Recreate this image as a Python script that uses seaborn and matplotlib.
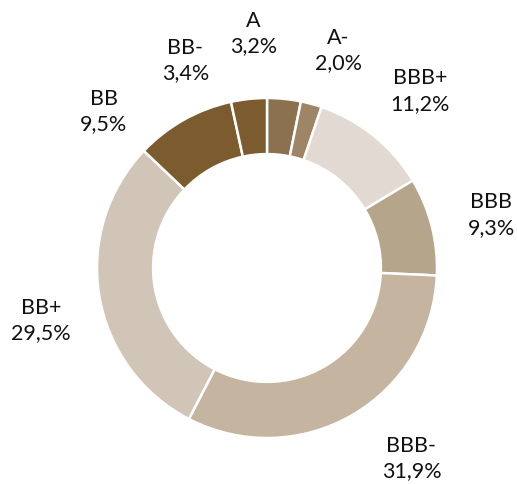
import matplotlib
matplotlib.use("Agg")
import matplotlib.pyplot as plt
import seaborn as sns

# rating distribution, clockwise from 12 o'clock
ratings = ["A", "A-", "BBB+", "BBB", "BBB-", "BB+", "BB", "BB-"]
shares = [3.2, 2.0, 11.2, 9.3, 31.9, 29.5, 9.5, 3.4]
colors = ["#8C7150", "#9E8566", "#E2DAD2", "#B5A58B",
          "#C4B4A0", "#D0C5B6", "#7C5C2F", "#7C5C2F"]

# label anchor points (outer radius = 1)
label_pos = [(-0.08, 1.38), (0.42, 1.28), (0.90, 1.04), (1.32, 0.31),
             (0.85, -1.12), (-1.33, -0.31), (-0.96, 0.92), (-0.48, 1.22)]

sns.set_theme(style="white")
plt.rcParams["font.family"] = ["Lato", "DejaVu Sans"]

fig = plt.figure(figsize=(5.17, 4.84), dpi=100)
ax = fig.add_axes([0, 0, 1, 1])

ax.pie(shares, colors=colors, startangle=90, counterclock=False,
       radius=1.0,
       wedgeprops=dict(width=0.33, edgecolor="white", linewidth=1.8))

for name, val, (x, y) in zip(ratings, shares, label_pos):
    txt = f"{name}\n{val:.1f}%".replace(".", ",")
    ax.text(x, y, txt, ha="center", va="center", fontsize=15.5,
            color="#111111", linespacing=1.35)

ax.set_aspect("auto")
ax.set_xlim(-267 / 170, 250 / 170)
ax.set_ylim(-216 / 170, 268 / 170)
ax.axis("off")

fig.savefig("out.png", dpi=100, facecolor="white")
